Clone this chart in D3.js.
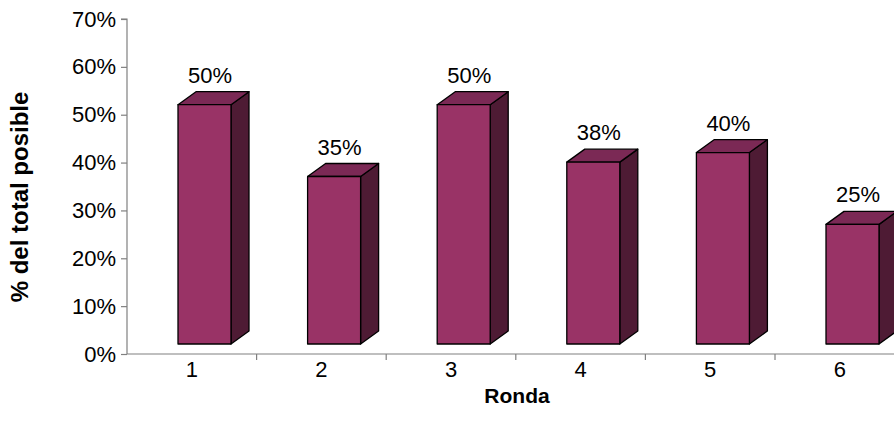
<!DOCTYPE html>
<html>
<head>
<meta charset="utf-8">
<script src="https://cdn.jsdelivr.net/npm/d3@7/dist/d3.min.js"></script>
<style>
  html, body { margin: 0; padding: 0; background: #ffffff; }
  svg { display: block; font-family: "Liberation Sans", Arial, sans-serif; }
</style>
</head>
<body>
<svg id="chart" width="894" height="435"></svg>
<script>
// Rounds and the share of the total possible score reached in each one
const rounds = ["1", "2", "3", "4", "5", "6"];
const shares = [0.50, 0.35, 0.50, 0.38, 0.40, 0.25];
const yTicks = [0, 0.1, 0.2, 0.3, 0.4, 0.5, 0.6, 0.7];

const svg = d3.select("#chart");

const plot = { left: 127, right: 904.6, top: 19, bottom: 354 };

const y = d3.scaleLinear().domain([0, 0.7]).range([plot.bottom, plot.top]);
const x = d3.scaleBand().domain(rounds).range([plot.left, plot.right]).padding(0);

// 3D column geometry
const depth = { dx: 18, dy: 13 };
const lift = 10;          // front face sits above the floor line
const barOffset = 51;     // from band start to front face
const barWidth = 53;

const colors = { front: "#993366", top: "#7b2955", side: "#4e1b34" };
const pct = d3.format(".0%");
const labelSize = "22px";

// Axes
const yAxis = d3.axisLeft(y).tickValues(yTicks).tickFormat(pct).tickSize(6).tickPadding(5);
const gy = svg.append("g").attr("transform", `translate(${plot.left},0)`).call(yAxis);

const xAxis = d3.axisBottom(x).tickSize(0).tickPadding(7);
const gx = svg.append("g").attr("transform", `translate(0,${plot.bottom})`).call(xAxis);

[gy, gx].forEach(g => {
  g.select(".domain").attr("stroke", "#808080").attr("stroke-width", 1.2);
  g.selectAll(".tick line").attr("stroke", "#808080").attr("stroke-width", 1.2);
  g.selectAll(".tick text").attr("fill", "#000").style("font-size", labelSize)
    .style("font-family", '"Liberation Sans", Arial, sans-serif');
});
gy.select(".domain").attr("d", `M-6,${plot.top}H0V${plot.bottom}`);
gx.select(".domain").attr("d", `M${plot.left},0H${plot.right}`);

// Tick marks between categories on the x axis
gx.selectAll(".sep")
  .data(rounds.slice(1))
  .join("line")
  .attr("class", "sep")
  .attr("x1", d => x(d)).attr("x2", d => x(d))
  .attr("y1", 0).attr("y2", 6)
  .attr("stroke", "#808080").attr("stroke-width", 1.2);

// Columns
const bars = svg.append("g").selectAll("g.bar")
  .data(rounds.map((r, i) => ({ r, v: shares[i] })))
  .join("g").attr("class", "bar");

bars.each(function (d) {
  const g = d3.select(this);
  const x0 = x(d.r) + barOffset, x1 = x0 + barWidth;
  const yb = y(0) - lift, yt = y(d.v) - lift;
  const { dx, dy } = depth;
  const stroke = { stroke: "#000", "stroke-width": 1.3, "stroke-linejoin": "round" };

  const side = g.append("path")
    .attr("d", `M${x1},${yb}L${x1 + dx},${yb - dy}L${x1 + dx},${yt - dy}L${x1},${yt}Z`)
    .attr("fill", colors.side);
  const top = g.append("path")
    .attr("d", `M${x0},${yt}L${x0 + dx},${yt - dy}L${x1 + dx},${yt - dy}L${x1},${yt}Z`)
    .attr("fill", colors.top);
  const front = g.append("rect")
    .attr("x", x0).attr("y", yt).attr("width", barWidth).attr("height", yb - yt)
    .attr("fill", colors.front);
  [side, top, front].forEach(s => Object.entries(stroke).forEach(([k, v]) => s.attr(k, v)));

  g.append("text")
    .attr("x", x0 + 32).attr("y", yt - dy - 9)
    .attr("text-anchor", "middle")
    .style("font-size", labelSize)
    .attr("fill", "#000")
    .text(pct(d.v));
});

// Axis titles
svg.append("text")
  .attr("x", 517).attr("y", 403)
  .attr("text-anchor", "middle")
  .style("font-size", "21px").style("font-weight", "bold")
  .text("Ronda");

svg.append("text")
  .attr("transform", "translate(28,197) rotate(-90)")
  .attr("text-anchor", "middle")
  .style("font-size", "24px").style("font-weight", "bold")
  .text("% del total posible");
</script>
</body>
</html>
